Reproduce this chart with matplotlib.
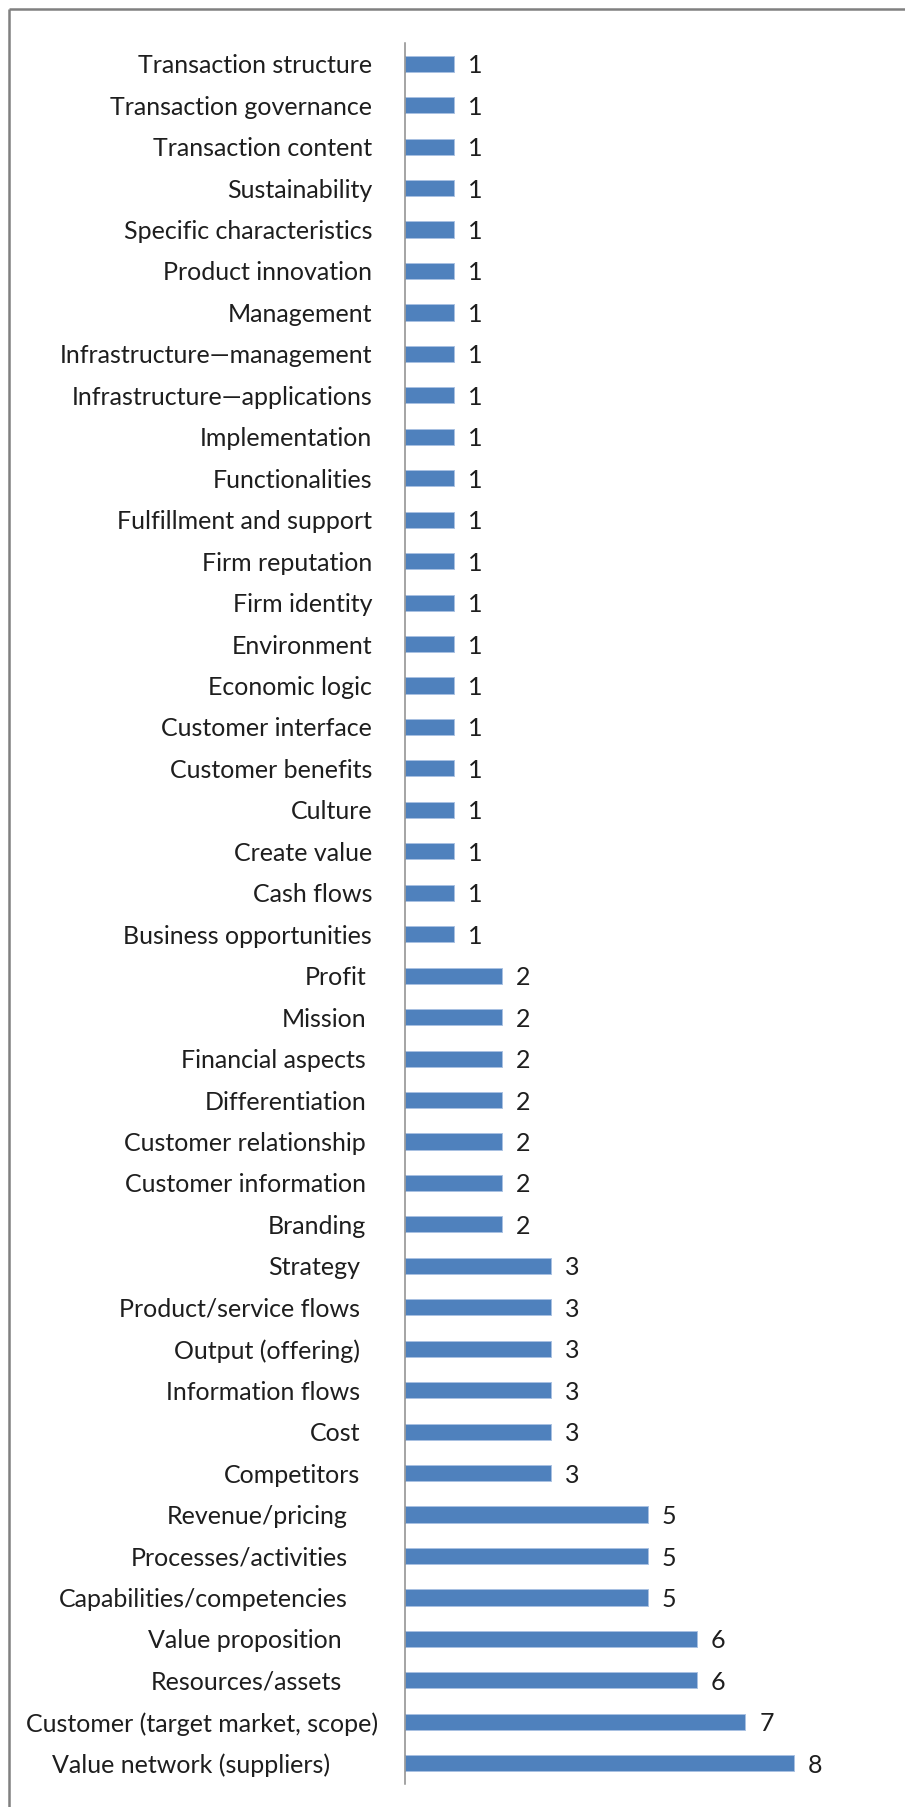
import matplotlib
matplotlib.use("Agg")
import matplotlib.pyplot as plt
from matplotlib.lines import Line2D

# Business-model components and how often each one is cited (bottom to top).
# Trailing spaces are part of the original category texts.
categories = [
    "Value network (suppliers)        ",
    "Customer (target market, scope)",
    "Resources/assets      ",
    "Value proposition      ",
    "Capabilities/competencies     ",
    "Processes/activities     ",
    "Revenue/pricing     ",
    "Competitors   ",
    "Cost   ",
    "Information flows   ",
    "Output (offering)   ",
    "Product/service flows   ",
    "Strategy   ",
    "Branding  ",
    "Customer information  ",
    "Customer relationship  ",
    "Differentiation  ",
    "Financial aspects  ",
    "Mission  ",
    "Profit  ",
    "Business opportunities ",
    "Cash flows ",
    "Create value ",
    "Culture ",
    "Customer benefits ",
    "Customer interface ",
    "Economic logic ",
    "Environment ",
    "Firm identity ",
    "Firm reputation ",
    "Fulfillment and support ",
    "Functionalities ",
    "Implementation ",
    "Infrastructure\u2014applications ",
    "Infrastructure\u2014management ",
    "Management ",
    "Product innovation ",
    "Specific characteristics ",
    "Sustainability ",
    "Transaction content ",
    "Transaction governance ",
    "Transaction structure ",
]
counts = [8, 7, 6, 6, 5, 5, 5,
          3, 3, 3, 3, 3, 3,
          2, 2, 2, 2, 2, 2, 2,
          1, 1, 1, 1, 1, 1, 1, 1, 1, 1, 1,
          1, 1, 1, 1, 1, 1, 1, 1, 1, 1, 1]

FONT = ["Lato", "DejaVu Sans"]
FS = 18
TEXT_COLOR = "#1e1e1e"
BAR_COLOR = "#4F81BD"

W, H = 905, 1807
fig = plt.figure(figsize=(W / 100, H / 100), dpi=100)
fig.patch.set_facecolor("white")

# plot area in pixel coordinates
left_px, right_px = 405, 891
top_px, bottom_px = 43, 1784
ax = fig.add_axes([left_px / W, 1 - bottom_px / H,
                   (right_px - left_px) / W, (bottom_px - top_px) / H])

ypos = list(range(len(categories)))
ax.barh(ypos, counts, height=0.39, color=BAR_COLOR,
        edgecolor="#a9c1e2", linewidth=0.7, zorder=2)
ax.set_xlim(0, 10)
ax.set_ylim(-0.5, len(categories) - 0.5)

for side in ("top", "right", "bottom"):
    ax.spines[side].set_visible(False)
ax.spines["left"].set_color("#8c8c8c")
ax.spines["left"].set_linewidth(1.1)
ax.spines["left"].set_zorder(3)
ax.set_xticks([])
ax.set_yticks([])

# category labels, right aligned; each trailing space pushes the text left
space_px = 6
for y, label in zip(ypos, categories):
    text = label.rstrip(" ")
    n_sp = len(label) - len(text)
    ax.annotate(text, xy=(0, y), xycoords=("axes fraction", "data"),
                xytext=(-27 - n_sp * space_px, -2), textcoords="offset pixels",
                ha="right", va="center", fontsize=FS, family=FONT,
                color=TEXT_COLOR)

# value labels at the end of each bar
for y, v in zip(ypos, counts):
    ax.annotate(str(v), xy=(v, y), xytext=(14, -2), textcoords="offset pixels",
                ha="left", va="center", fontsize=FS, family=FONT,
                color=TEXT_COLOR)

# chart frame (top and left edges)
fig.add_artist(Line2D([9 / W, 9 / W], [0, 1 - 9 / H], transform=fig.transFigure,
                      color="#808080", linewidth=1.8, solid_capstyle="butt"))
fig.add_artist(Line2D([9 / W, 1], [1 - 9 / H, 1 - 9 / H], transform=fig.transFigure,
                      color="#808080", linewidth=1.8, solid_capstyle="butt"))

fig.savefig("out.png", dpi=100, facecolor="white")
